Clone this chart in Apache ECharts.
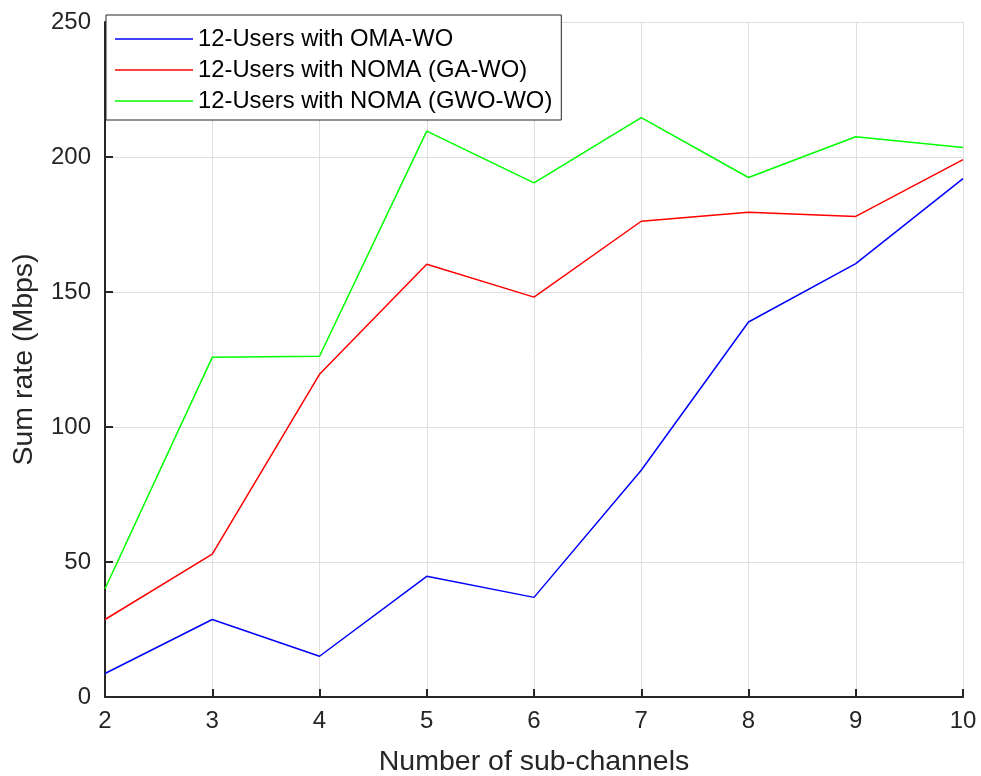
<!DOCTYPE html>
<html>
<head>
<meta charset="utf-8">
<title>Sum rate vs number of sub-channels</title>
<script src="https://cdn.jsdelivr.net/npm/echarts@6/dist/echarts.min.js"></script>
<style>
  html, body { margin: 0; padding: 0; background: #fff; }
  #chart { width: 981px; height: 776px; }
</style>
</head>
<body>
<div id="chart"></div>
<script>
// values
const subChannels = [2, 3, 4, 5, 6, 7, 8, 9, 10];
const omaWo = [8.7, 28.7, 15.1, 44.7, 36.9, 84, 138.9, 160.5, 192];
const nomaGaWo = [28.7, 52.9, 119.5, 160.3, 148.1, 176.2, 179.5, 178, 199];
const nomaGwoWo = [40.1, 125.8, 126.2, 209.6, 190.4, 214.6, 192.4, 207.5, 203.5];
const seriesNames = ['12-Users with OMA-WO', '12-Users with NOMA (GA-WO)', '12-Users with NOMA (GWO-WO)'];
const seriesColors = ['#0000ff', '#ff0000', '#00ff00'];

(function() {
  const chartDom = document.getElementById('chart');
  const chart = echarts.init(chartDom);

  const font = "'Liberation Sans', Arial, Helvetica, sans-serif";
  const axisColor = '#262626';
  const gridColor = '#dfdfdf';

  const toPairs = (vals) => subChannels.map((x, i) => [x, vals[i]]);
  const allData = [omaWo, nomaGaWo, nomaGwoWo];

  const option = {
    backgroundColor: '#ffffff',
    animation: false,
    textStyle: { fontFamily: font },
    grid: {
      left: 105,
      right: 18,
      top: 22,
      bottom: 79,
      containLabel: false,
      outerBoundsMode: 'none'
    },
    legend: {
      orient: 'vertical',
      left: 106,
      top: 15,
      padding: [12, 9, 7, 9],
      itemGap: 7,
      itemWidth: 78,
      itemHeight: 1.5,
      icon: 'rect',
      backgroundColor: '#ffffff',
      borderColor: axisColor,
      borderWidth: 1,
      textStyle: { color: '#000000', fontSize: 23.8, fontFamily: font },
      data: seriesNames
    },
    xAxis: {
      type: 'value',
      min: 2,
      max: 10,
      interval: 1,
      name: 'Number of sub-channels',
      nameLocation: 'middle',
      nameGap: 51,
      nameTextStyle: { color: axisColor, fontSize: 28.5, fontFamily: font },
      axisLine: { show: true, onZero: false, lineStyle: { color: axisColor, width: 2 } },
      axisTick: { show: true, inside: true, length: 8, lineStyle: { color: axisColor, width: 2 } },
      axisLabel: { color: axisColor, fontSize: 24, margin: 12, fontFamily: font },
      splitLine: { show: true, lineStyle: { color: gridColor, width: 1 } }
    },
    yAxis: {
      type: 'value',
      min: 0,
      max: 250,
      interval: 50,
      name: 'Sum rate (Mbps)',
      nameLocation: 'middle',
      nameGap: 66,
      nameTextStyle: { color: axisColor, fontSize: 28.5, fontFamily: font },
      axisLine: { show: true, lineStyle: { color: axisColor, width: 2 } },
      axisTick: { show: true, inside: true, length: 8, lineStyle: { color: axisColor, width: 2 } },
      axisLabel: { color: axisColor, fontSize: 24, margin: 14, fontFamily: font },
      splitLine: { show: true, lineStyle: { color: gridColor, width: 1 } }
    },
    series: seriesNames.map((name, i) => ({
      name: name,
      type: 'line',
      data: toPairs(allData[i]),
      symbol: 'none',
      showSymbol: false,
      lineStyle: { color: seriesColors[i], width: 1.5 },
      itemStyle: { color: seriesColors[i] },
      z: 3 + i
    }))
  };

  chart.setOption(option);
})();
</script>
</body>
</html>
